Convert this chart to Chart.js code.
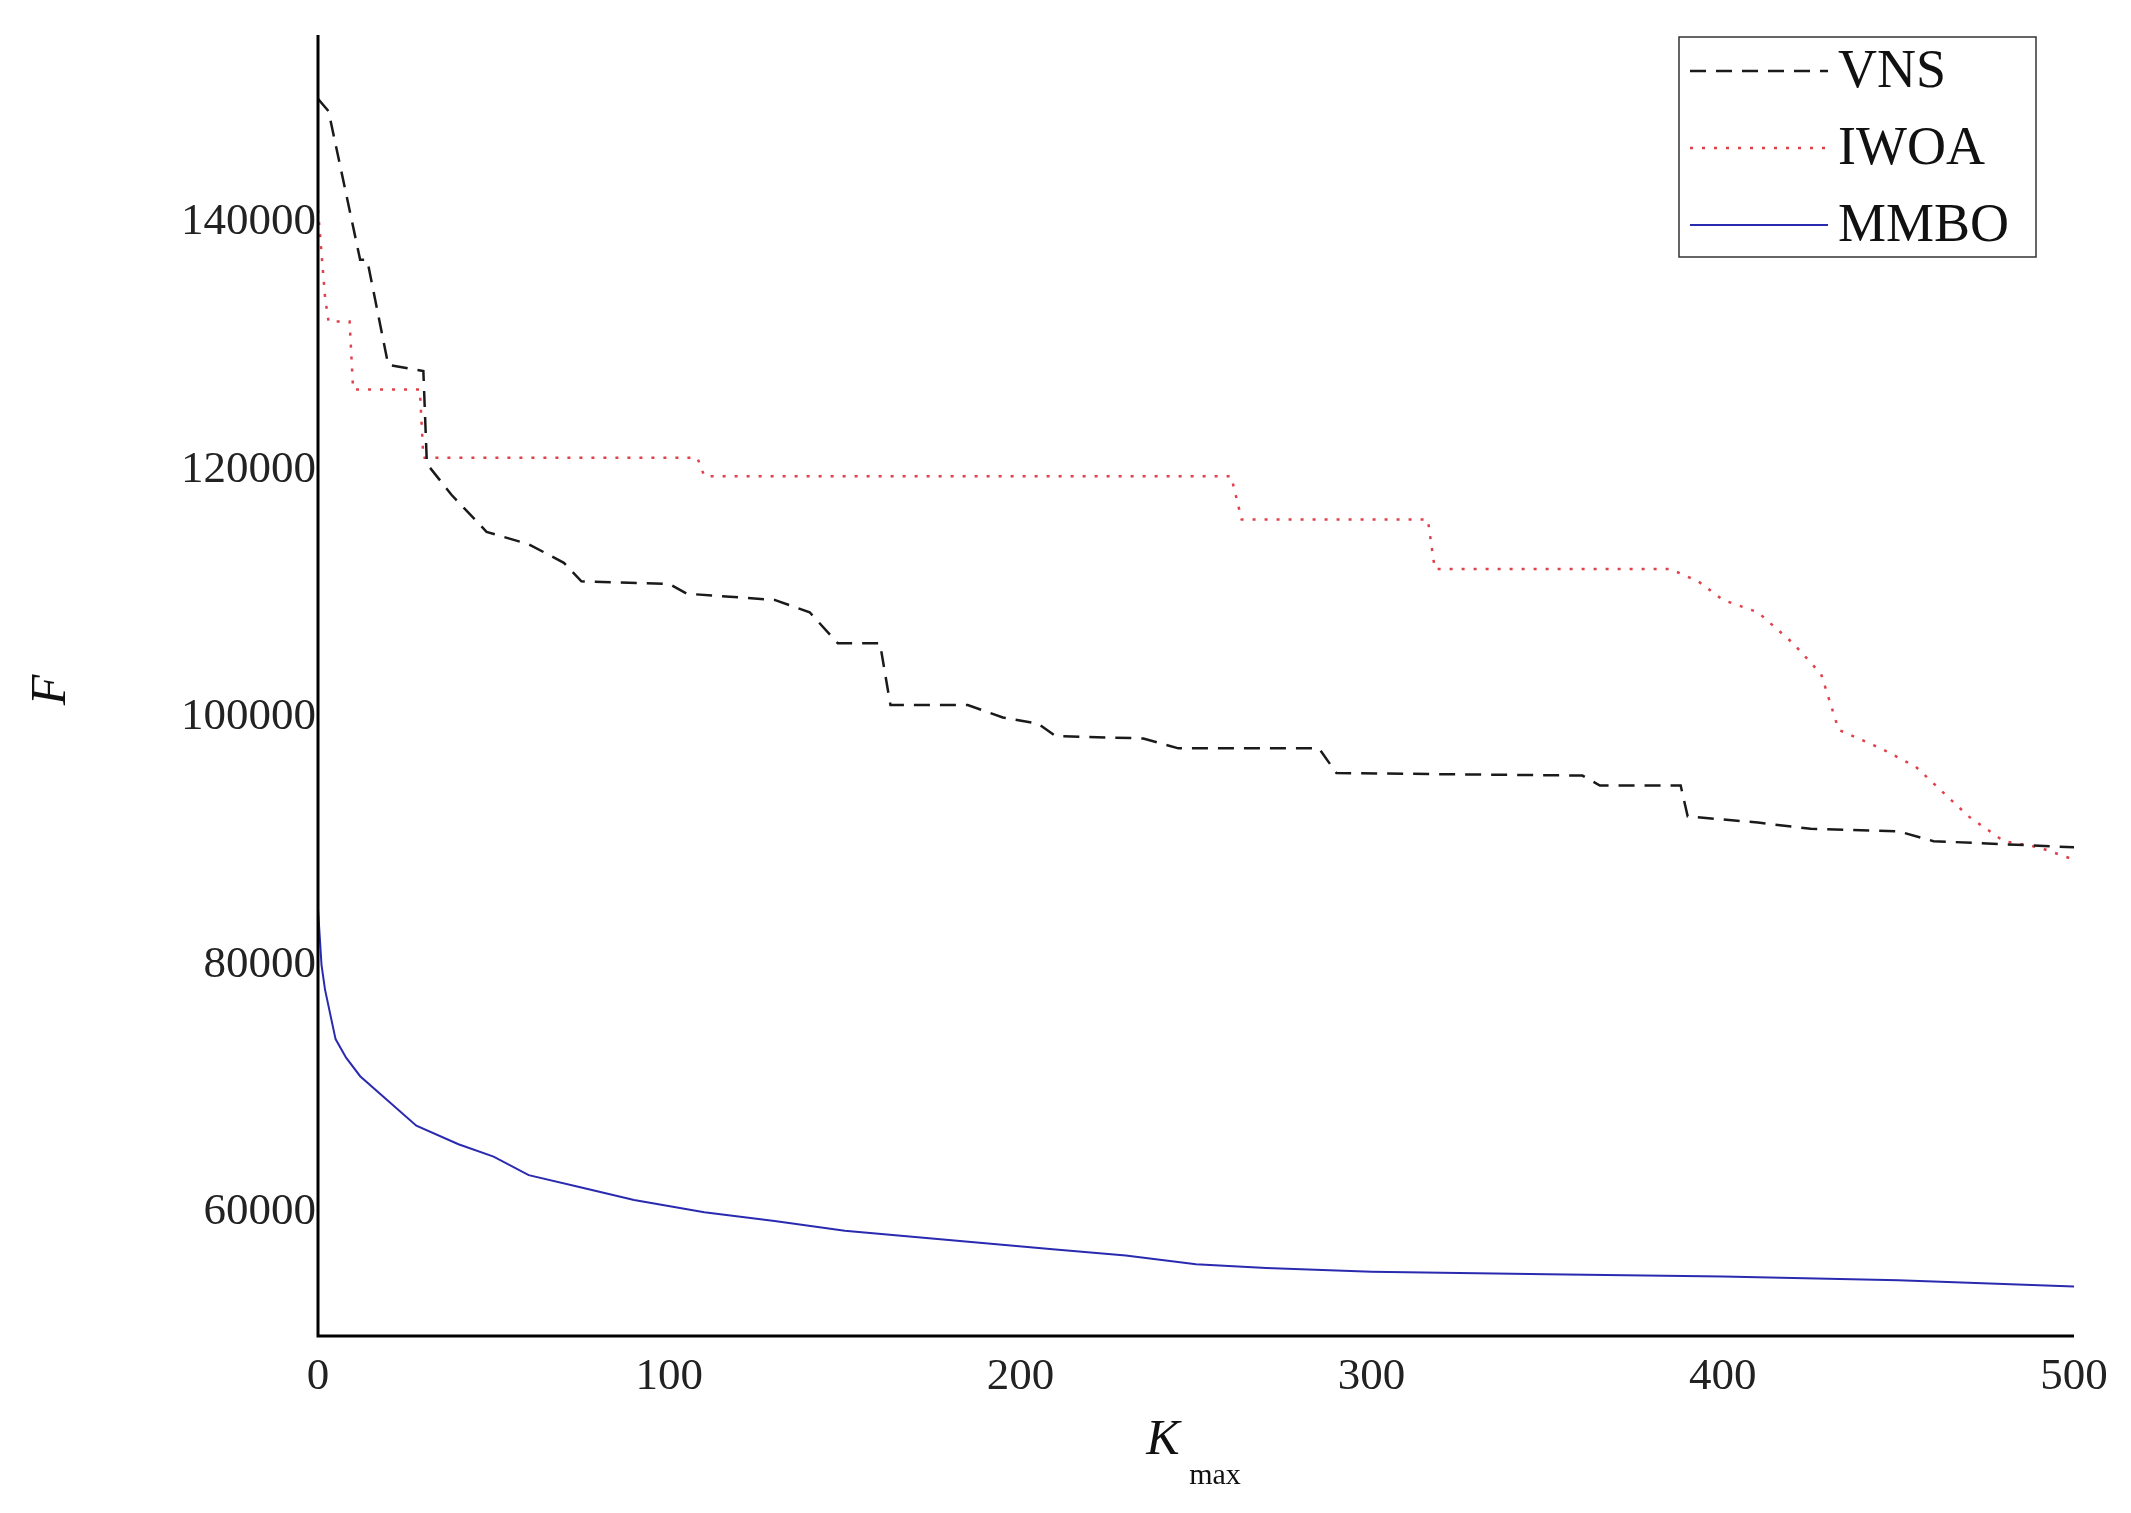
<!DOCTYPE html>
<html><head><meta charset="utf-8">
<script src="https://cdn.jsdelivr.net/npm/chart.js@4/dist/chart.umd.min.js"></script>
<style>html,body{margin:0;padding:0;background:#fff}#wrap{width:2131px;height:1513px}</style>
</head><body><div id="wrap"><canvas id="c"></canvas></div>
<script>
const seriesNames = ['VNS', 'IWOA', 'MMBO'];
const xTicks = [0, 100, 200, 300, 400, 500];
const yTicks = [60000, 80000, 100000, 120000, 140000];

const vnsX = [0,3,12,14,20,30,31,38,48,60,70,75,100,105,130,140,148,160,163,185,195,205,210,235,245,285,290,360,365,388,390,410,425,450,460,500];
const vnsY = [150000,149000,137000,137000,128500,128000,120500,118000,115000,114000,112500,111000,110800,110000,109500,108500,106000,106000,101000,101000,100000,99500,98500,98300,97500,97500,95500,95300,94500,94500,92000,91500,91000,90800,90000,89500];

const iwoaX = [0,2,3,9,10,29,30,108,110,260,263,316,318,385,393,400,410,420,428,433,445,455,470,480,490,500];
const iwoaY = [141000,134000,132000,132000,126500,126500,121000,121000,119500,119500,116000,116000,112000,112000,111000,109500,108500,106000,103500,99000,97500,96000,92000,90000,89500,88500];

const mmboX = [0,1,2,5,8,12,20,28,40,50,60,75,90,110,130,150,170,190,210,230,250,270,300,350,400,450,500];
const mmboY = [84500,80000,78000,74000,72500,71000,69000,67000,65500,64500,63000,62000,61000,60000,59300,58500,58000,57500,57000,56500,55800,55500,55200,55000,54800,54500,54000];

const pts = (xs, ys) => xs.map((x, i) => ({x, y: ys[i]}));
const FONT = '"Liberation Serif", "Times New Roman", serif';

const styles = [
  {color:'#1a1a1a', dash:[16,10], width:2.5},
  {color:'#e0404a', dash:[3,9], width:2.5},
  {color:'#2a2ab0', dash:[], width:2}
];

const overlay = {
  id:'overlay',
  afterDraw(chart){
    const ctx = chart.ctx, a = chart.chartArea;
    ctx.save();
    // axes lines
    ctx.strokeStyle='#000'; ctx.lineWidth=3; ctx.setLineDash([]);
    ctx.beginPath(); ctx.moveTo(a.left, a.top-2); ctx.lineTo(a.left, a.bottom); ctx.lineTo(a.right, a.bottom); ctx.stroke();
    // legend
    const bx=1679, by=37, bw=357, bh=220;
    ctx.lineWidth=1.5; ctx.strokeStyle='#333';
    ctx.fillStyle='#fff'; ctx.fillRect(bx,by,bw,bh); ctx.strokeRect(bx,by,bw,bh);
    const rows=[71,148,225];
    seriesNames.forEach((n,i)=>{
      const s=styles[i];
      ctx.strokeStyle=s.color; ctx.lineWidth=s.width; ctx.setLineDash(s.dash);
      ctx.beginPath(); ctx.moveTo(1690,rows[i]); ctx.lineTo(1828,rows[i]); ctx.stroke();
      ctx.setLineDash([]);
      ctx.fillStyle='#111'; ctx.font='54px '+FONT; ctx.textBaseline='middle'; ctx.textAlign='left';
      ctx.fillText(n,1838,rows[i]+2);
    });
    // axis titles
    ctx.fillStyle='#111'; ctx.textAlign='center'; ctx.textBaseline='middle';
    ctx.font='italic 50px '+FONT;
    ctx.translate(52,690); ctx.rotate(-Math.PI/2); ctx.fillText('F',0,0);
    ctx.setTransform(1,0,0,1,0,0);
    const dpr = chart.currentDevicePixelRatio || 1;
    ctx.setTransform(dpr,0,0,dpr,0,0);
    ctx.font='italic 50px '+FONT; ctx.fillText('K',1163,1441);
    ctx.font='30px '+FONT; ctx.fillText('max',1215,1476);
    ctx.restore();
  }
};

new Chart(document.getElementById('c'), {
  type:'line',
  data:{datasets:[
    {label:seriesNames[0], data:pts(vnsX,vnsY)},
    {label:seriesNames[1], data:pts(iwoaX,iwoaY)},
    {label:seriesNames[2], data:pts(mmboX,mmboY)}
  ].map((d,i)=>Object.assign(d,{borderColor:styles[i].color,borderWidth:styles[i].width,borderDash:styles[i].dash,pointRadius:0,fill:false,tension:0}))},
  options:{
    responsive:true, maintainAspectRatio:false, animation:false,
    layout:{padding:{left:0,top:37,right:57,bottom:0}},
    plugins:{legend:{display:false},tooltip:{enabled:false}},
    scales:{
      x:{type:'linear',min:0,max:500,
        afterBuildTicks(s){s.ticks=xTicks.map(v=>({value:v}));},
        afterFit(s){s.height=177;},
        grid:{display:false,drawTicks:false}, border:{display:false},
        ticks:{autoSkip:false,maxRotation:0,padding:14,color:'#222',font:{family:FONT,size:45}}},
      y:{type:'linear',min:50000,max:155000,
        afterBuildTicks(s){s.ticks=yTicks.map(v=>({value:v}));},
        afterFit(s){s.width=318;},
        grid:{display:false,drawTicks:false}, border:{display:false},
        ticks:{padding:2,color:'#222',font:{family:FONT,size:45},callback:v=>String(v)}}
    }
  },
  plugins:[overlay]
});
</script></body></html>
